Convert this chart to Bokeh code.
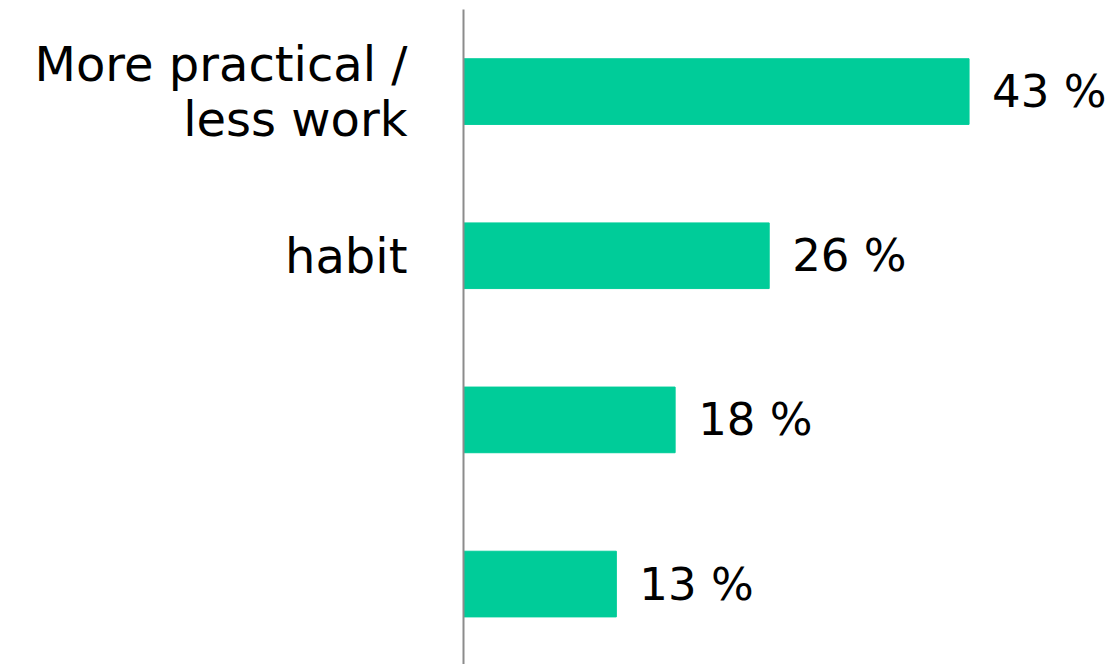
from bokeh.plotting import figure
from bokeh.models import Range1d, FixedTicker, ColumnDataSource
from bokeh.core.properties import value
from bokeh.embed import file_html
from bokeh.resources import INLINE

categories = ["More practical /\nless work", "habit", "", ""]
values = [43, 26, 18, 13]
value_labels = ["43 %", "26 %", "18 %", "13 %"]
positions = [0, 1, 2, 3]

BAR = "#00CC99"
FONT = "DejaVu Sans"

src = ColumnDataSource(dict(y=positions, v=values, lab=value_labels))

p = figure(width=1112, height=664, output_backend="svg", toolbar_location=None,
           x_range=Range1d(0, 55.2), y_range=Range1d(3.49, -0.5),
           x_axis_location=None, min_border_left=463, min_border_right=0,
           min_border_top=9, min_border_bottom=0)
p.outline_line_color = None
p.grid.visible = False
p.background_fill_color = "white"
p.border_fill_color = "white"

p.hbar(y="y", right="v", left=0, height=0.4, color=BAR, source=src)
p.text(x="v", y="y", text="lab", source=src, x_offset=23, text_baseline="middle",
       text_align="left", text_font=value(FONT), text_font_size="45px", text_color="black")

ax = p.yaxis[0]
ax.ticker = FixedTicker(ticks=positions)
ax.major_label_overrides = {pos: lab for pos, lab in zip(positions, categories)}
ax.major_tick_line_color = None
ax.minor_tick_line_color = None
ax.major_tick_out = 0
ax.major_tick_in = 0
ax.axis_line_color = "#8c8c8c"
ax.axis_line_width = 2
ax.major_label_text_font = FONT
ax.major_label_text_font_size = "48px"
ax.major_label_text_color = "black"
ax.major_label_text_line_height = 0.98
ax.major_label_standoff = 56
ax.major_label_text_align = "right"

open("out.html", "w").write(file_html(p, INLINE))
